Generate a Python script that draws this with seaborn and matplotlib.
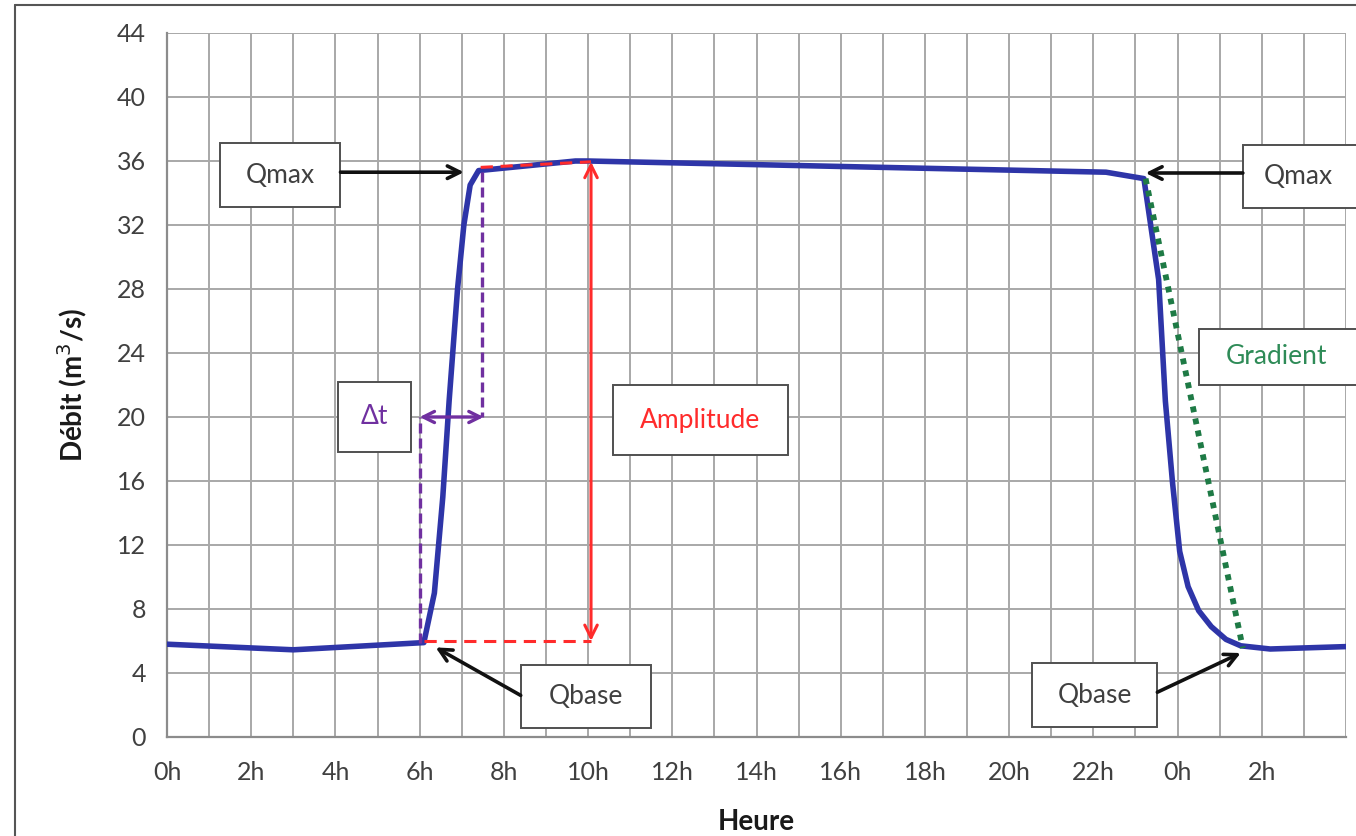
import matplotlib
matplotlib.use("Agg")
import matplotlib.pyplot as plt
from matplotlib.patches import Rectangle
from matplotlib.lines import Line2D
from matplotlib.ticker import MultipleLocator
import seaborn as sns
import pandas as pd

# hydrogram (hours since 0h, flow in m3/s)
hours = [0, 3, 6.1, 6.35, 6.55, 6.7, 6.9, 7.05, 7.2, 7.4, 9.7, 10.0, 22.3, 23.2,
         23.55, 23.71, 23.88, 24.05, 24.25, 24.5, 24.8, 25.15, 25.5, 26.2, 28.0]
debit = [5.8, 5.45, 5.9, 9.0, 15.0, 21.0, 28.0, 32.0, 34.5, 35.4, 36.0, 36.0, 35.3, 34.9,
         28.6, 21.0, 15.9, 11.6, 9.4, 7.9, 6.9, 6.1, 5.7, 5.5, 5.65]

x_ticks = list(range(0, 27, 2))
x_labels = ["0h", "2h", "4h", "6h", "8h", "10h", "12h", "14h", "16h", "18h",
            "20h", "22h", "0h", "2h"]
y_ticks = list(range(0, 45, 4))

# key points
q_base_1 = (6.0, 6.0)
q_max_1 = (7.45, 35.6)
q_peak = (10.07, 35.95)
q_max_2 = (23.24, 34.9)
q_base_2 = (25.55, 5.56)
dt_level = 20.0

# label boxes: text, x0, x1, y0, y1, colour
boxes = [
    ("Qmax", 1.26, 4.12, 33.1, 37.1, "#404040"),
    ("Δt", 4.07, 5.79, 17.8, 22.2, "#7030a0"),
    ("Amplitude", 10.6, 14.74, 17.6, 22.0, "#ff2b2b"),
    ("Qbase", 8.4, 11.5, 0.56, 4.5, "#404040"),
    ("Qmax", 25.55, 29.0, 33.06, 37.0, "#404040"),
    ("Gradient", 24.52, 29.0, 22.0, 25.5, "#2e8b57"),
    ("Qbase", 20.55, 23.52, 0.62, 4.62, "#404040"),
]

sns.set_style("white")
plt.rcParams["font.family"] = ["Lato", "DejaVu Sans"]

fig = plt.figure(figsize=(13.56, 8.36), dpi=100)
ax = fig.add_axes([167 / 1356, 1 - 737 / 836, (1346 - 167) / 1356, (737 - 33) / 836])

df = pd.DataFrame({"Heure": hours, "Debit": debit})
sns.lineplot(data=df, x="Heure", y="Debit", ax=ax, color="#2e35a8", lw=4,
             zorder=5, sort=False)

ax.set_xlim(0, 28)
ax.set_ylim(0, 44)
ax.set_xticks(x_ticks)
ax.set_xticklabels(x_labels)
ax.xaxis.set_minor_locator(MultipleLocator(1))
ax.set_yticks(y_ticks)
ax.grid(False)
ax.xaxis.grid(True, which="both", color="#a8a8a8", lw=1.4)
ax.yaxis.grid(True, which="major", color="#a8a8a8", lw=1.4)
ax.set_axisbelow(True)
for s in ["top", "right"]:
    ax.spines[s].set_visible(False)
for s in ["left", "bottom"]:
    ax.spines[s].set_color("#8c8c8c")
    ax.spines[s].set_linewidth(1.6)
ax.tick_params(axis="both", which="major", length=7, width=1.4, color="#8c8c8c",
               labelsize=18, labelcolor="#404040", direction="out")
ax.tick_params(axis="x", which="minor", length=0)
ax.tick_params(axis="x", pad=10)
ax.tick_params(axis="y", pad=8)

ax.set_xlabel("Heure", fontsize=20, fontweight="bold", color="#1a1a1a", labelpad=18)
ax.set_ylabel("Débit (m$^3$/s)", fontsize=20, fontweight="bold", color="#1a1a1a",
              labelpad=20)

# amplitude (red)
red = "#ff2b2b"
ax.plot([q_max_1[0], q_peak[0]], [q_max_1[1], q_peak[1]], color=red, lw=2.2,
        ls=(0, (4, 2.5)), zorder=6)
ax.plot([q_base_1[0] + 0.1, q_peak[0]], [q_base_1[1], q_base_1[1]], color=red, lw=2.2,
        ls=(0, (4, 2.5)), zorder=6)
ax.annotate("", xy=(q_peak[0], q_base_1[1]), xytext=(q_peak[0], q_peak[1]),
            arrowprops=dict(arrowstyle="<->,head_length=0.9,head_width=0.45",
                            color=red, lw=2.2, shrinkA=0, shrinkB=0), zorder=6)

# delta t (purple)
purple = "#7030a0"
ax.plot([q_base_1[0], q_base_1[0]], [5.9, dt_level], color=purple, lw=2.4,
        ls=(0, (3, 1.5)), zorder=6)
ax.plot([7.49, 7.49], [35.3, dt_level], color=purple, lw=2.4, ls=(0, (3, 1.5)), zorder=6)
ax.annotate("", xy=(q_base_1[0], dt_level), xytext=(7.52, dt_level),
            arrowprops=dict(arrowstyle="<->,head_length=0.8,head_width=0.4",
                            color=purple, lw=2.4, shrinkA=0, shrinkB=0), zorder=6)

# gradient (green dotted)
ax.plot([q_max_2[0], q_base_2[0]], [q_max_2[1], q_base_2[1]], color="#1e7a45", lw=4.2,
        ls=(0, (1, 1.1)), zorder=6)

# label boxes
for txt, x0, x1, y0, y1, col in boxes:
    ax.add_patch(Rectangle((x0, y0), x1 - x0, y1 - y0, facecolor="white",
                           edgecolor="#505050", lw=1.4, zorder=7, clip_on=False))
    cx = (x0 + min(x1, 28.2)) / 2 if x1 > 28 else (x0 + x1) / 2
    ax.text(cx, (y0 + y1) / 2, txt, ha="center", va="center", fontsize=19,
            color=col, zorder=8, clip_on=False)

# black arrows to Qmax / Qbase
arrow_kw = dict(arrowstyle="->,head_length=0.9,head_width=0.45", color="#111111",
                lw=2.6, shrinkA=0, shrinkB=0)
ax.annotate("", xy=(7.05, 35.3), xytext=(4.12, 35.3), arrowprops=arrow_kw, zorder=8)
ax.annotate("", xy=(23.24, 35.25), xytext=(25.55, 35.25), arrowprops=arrow_kw, zorder=8)
ax.annotate("", xy=(6.38, 5.6), xytext=(8.4, 2.6), arrowprops=arrow_kw, zorder=8)
ax.annotate("", xy=(25.5, 5.25), xytext=(23.52, 2.8), arrowprops=arrow_kw, zorder=8)

# outer frame of the original figure
fig.add_artist(Line2D([15 / 1356, 15 / 1356], [0, 1 - 5 / 836], color="#555555", lw=1.5))
fig.add_artist(Line2D([15 / 1356, 1], [1 - 5 / 836, 1 - 5 / 836], color="#555555", lw=1.5))

fig.savefig("out.png", dpi=100)
